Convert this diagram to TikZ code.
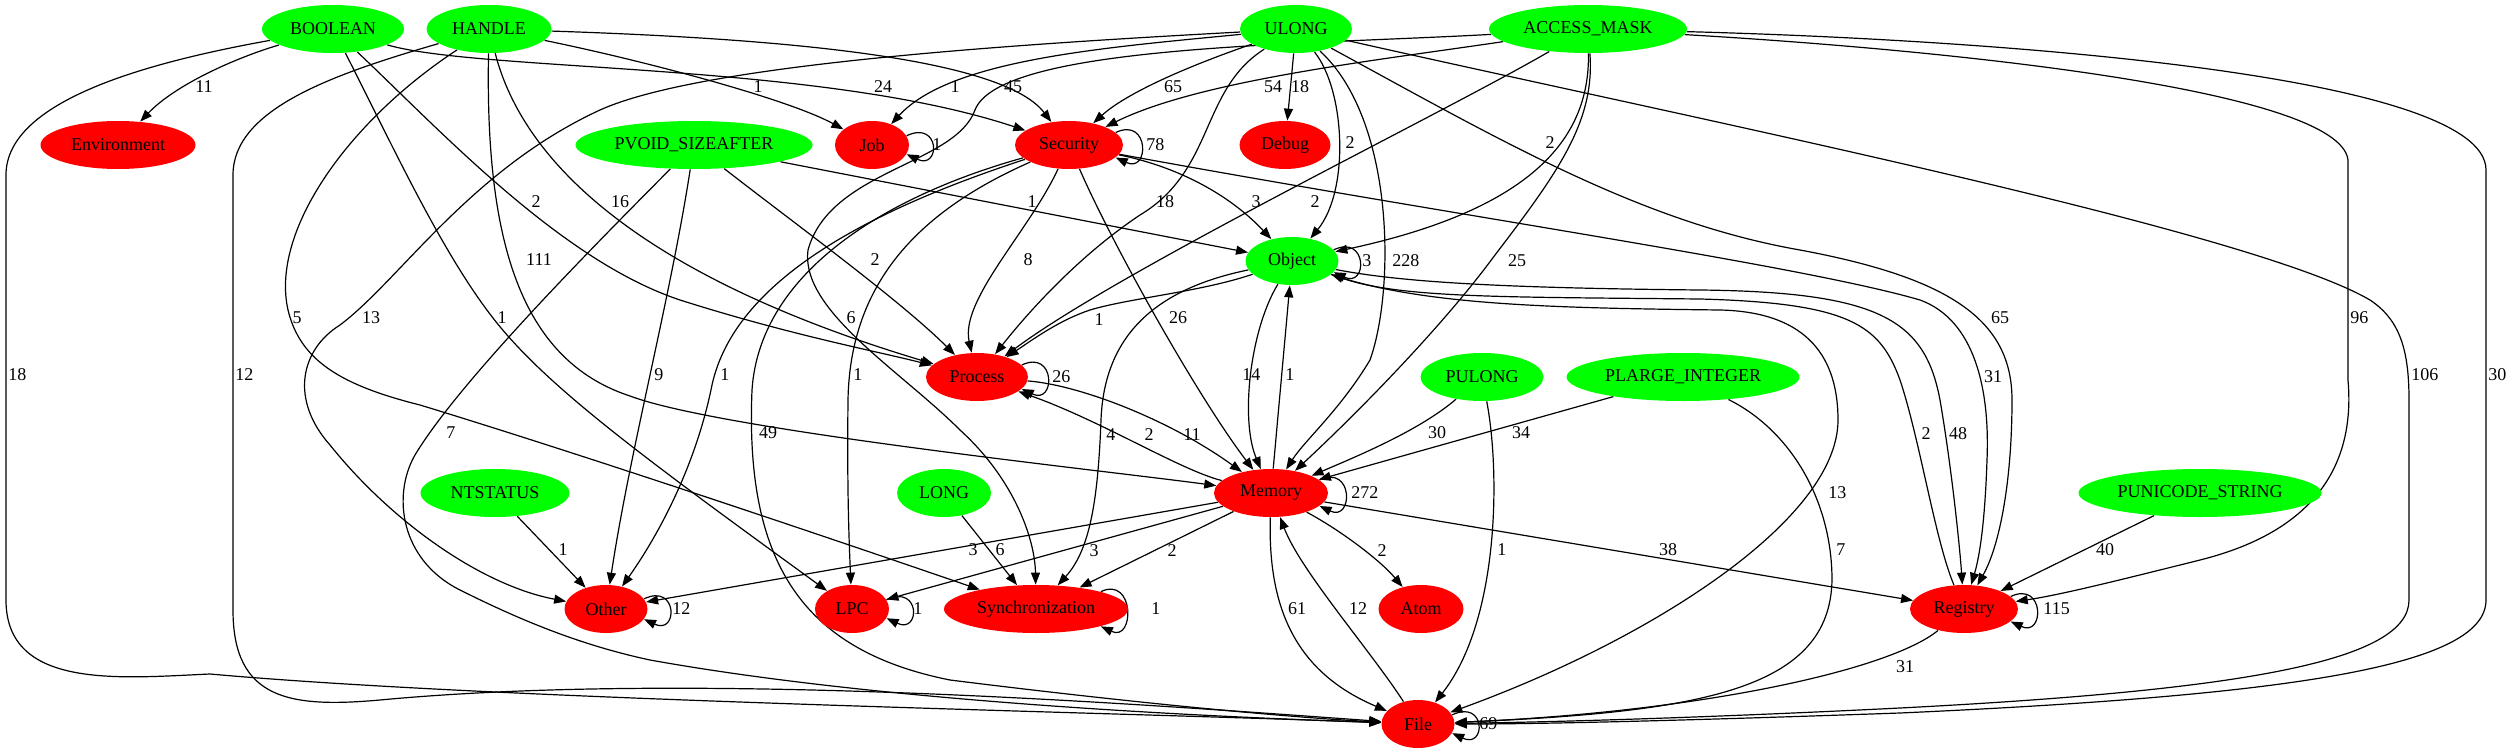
\documentclass[tikz,border=0pt]{standalone}
\usepackage{fontspec}
\setmainfont{Liberation Serif}
\usetikzlibrary{arrows.meta,backgrounds,shapes.geometric}
\definecolor{gn}{RGB}{0,255,0}
\definecolor{rd}{RGB}{255,0,0}
\begin{document}
\begin{tikzpicture}[x=0.5pt,y=-0.5pt,
  base/.style={ellipse,draw=none,minimum height=24pt,inner sep=0pt,font=\fontsize{9}{10}\selectfont},
  gnode/.style={base,fill=gn,minimum width=#1},
  rnode/.style={base,fill=rd,minimum width=#1},
  e/.style={line width=0.6pt,-{Triangle[length=6pt,width=4.5pt]}},
  lab/.style={font=\fontsize{9}{10}\selectfont,inner sep=0pt},
  lw/.style={lab,anchor=west}]
\useasboundingbox (0,0) rectangle (2508,755);
% nodes
\node[gnode=71pt] (BOOLEAN) at (333,29) {BOOLEAN};
\node[gnode=62.5pt] (HANDLE) at (489,29) {HANDLE};
\node[gnode=56pt] (ULONG) at (1296,29) {ULONG};
\node[gnode=99pt] (ACCESS) at (1588,29) {ACCESS\_MASK};
\node[rnode=77.5pt] (Environment) at (118,145) {Environment};
\node[gnode=118.5pt] (PVOID) at (694,145) {PVOID\_SIZEAFTER};
\node[rnode=37pt] (Job) at (872,145) {Job};
\node[rnode=54pt] (Security) at (1069,145) {Security};
\node[rnode=45.5pt] (Debug) at (1285,145) {Debug};
\node[gnode=46.5pt] (Object) at (1292,261) {Object};
\node[rnode=51pt] (Process) at (977,377) {Process};
\node[gnode=61.5pt] (PULONG) at (1482,377) {PULONG};
\node[gnode=116.5pt] (PLARGE) at (1683,377) {PLARGE\_INTEGER};
\node[gnode=74.5pt] (NTSTATUS) at (495,493) {NTSTATUS};
\node[gnode=47pt] (LONG) at (944,493) {LONG};
\node[rnode=57pt] (Memory) at (1271,493) {Memory};
\node[gnode=121.5pt] (PUNICODE) at (2200,493) {PUNICODE\_STRING};
\node[rnode=41.5pt] (Other) at (606,609) {Other};
\node[rnode=37pt] (LPC) at (852,609) {LPC};
\node[rnode=92pt] (Sync) at (1036,609) {Synchronization};
\node[rnode=42.5pt] (Atom) at (1421,609) {Atom};
\node[rnode=54pt] (Registry) at (1964,609) {Registry};
\node[rnode=36.5pt] (File) at (1418,724) {File};
% labels
\node[lab] (lBE) at (204,87) {11};
\node[lw] (lBF) at (8,375) {18};
\node[lw] (lHF) at (235,375) {12};
\node[lab] (lBS) at (883,87) {24};
\node[lab] (lHS) at (1013,87) {45};
\node[lab] (lHJ) at (758,87) {1};
\node[lab] (lUJ) at (955,87) {1};
\node[lab] (lUS) at (1173,87) {65};
\node[lab] (lAS) at (1273,87) {54};
\node[lab] (lUD) at (1300,87) {18};
\node[lab] (lBP) at (536,202) {2};
\node[lab] (lHP) at (620,202) {16};
\node[lab] (lHM) at (539,260) {111};
\node[lab] (lHSy) at (297,318) {5};
\node[lab] (lUO) at (371,318) {13};
\node[lab] (lBL) at (502,318) {1};
\node[lw] (lPF) at (446,433) {7};
\node[lab] (lPO) at (1032,202) {1};
\node[lab] (lUP) at (1165,202) {18};
\node[lab] (lSO) at (1256,202) {3};
\node[lab] (lAP) at (1315,202) {2};
\node[lab] (lUOb) at (1350,143) {2};
\node[lab] (lAO) at (1550,143) {2};
\node[lab] (lPP) at (875,260) {2};
\node[lab] (lSP) at (1028,260) {8};
\node[lw] (lUM) at (1392,261) {228};
\node[lab] (lAM) at (1517,261) {25};
\node[lab] (lASy) at (851,318) {6};
\node[lab] (lOP) at (1099,320) {1};
\node[lab] (lSM) at (1178,318) {26};
\node[lw] (lPOt) at (654,375) {9};
\node[lw] (lSOt) at (720,375) {1};
\node[lw] (lSL) at (853,375) {1};
\node[lw] (lOM) at (1242,375) {14};
\node[lw] (lMO) at (1285,375) {1};
\node[lab] (lSF) at (768,433) {49};
\node[lw] (lOS) at (1106,435) {4};
\node[lab] (lMP) at (1149,435) {2};
\node[lab] (lPM) at (1192,435) {11};
\node[lab] (lMOt) at (973,550) {3};
\node[lab] (lLS) at (1000,550) {6};
\node[lab] (lML) at (1094,551) {3};
\node[lab] (lMS) at (1172,551) {2};
\node[lab] (lNO) at (563,550) {1};
\node[lab] (lPuM) at (1437,433) {30};
\node[lab] (lPlM) at (1521,433) {34};
\node[lw] (lOF) at (1828,493) {13};
\node[lab] (lMA) at (1382,551) {2};
\node[lw] (lPuF) at (1497,550) {1};
\node[lab] (lMR) at (1668,550) {38};
\node[lw] (lPlF) at (1836,550) {7};
\node[lab] (lMF) at (1297,609) {61};
\node[lab] (lFM) at (1358,609) {12};
\node[lab] (lUR) at (2000,318) {65};
\node[lw] (lAR) at (2350,318) {96};
\node[lab] (lSR) at (1993,377) {31};
\node[lw] (lUF) at (2411,375) {106};
\node[lw] (lAF) at (2488,375) {30};
\node[lab] (lRO) at (1926,434) {2};
\node[lab] (lOR) at (1958,434) {48};
\node[lab] (lPR) at (2105,550) {40};
\node[lab] (lRF) at (1905,667) {31};
% loop labels
\node[lw] (lJob) at (932,145) {1};
\node[lw] (lSec) at (1146,145) {78};
\node[lw] (lObj) at (1362,261) {3};
\node[lw] (lPro) at (1052,377) {26};
\node[lw] (lMem) at (1351,493) {272};
\node[lw] (lOth) at (672,609) {12};
\node[lw] (lLPC) at (913,609) {1};
\node[lw] (lSyn) at (1151,609) {1};
\node[lw] (lReg) at (2043,609) {115};
\node[lw] (lFil) at (1479,724) {69};
\begin{pgfonlayer}{background}
\fill[white] (0,0) rectangle (2508,755);
% BOOLEAN
\draw[e] (BOOLEAN) .. controls (235,58) and (175,85) .. (Environment);
\draw[e] (BOOLEAN) .. controls (150,62) and (6,100) .. (6,175) -- (6,600) .. controls (6,690) and (120,678) .. (210,674) .. controls (500,700) and (1100,712) .. (File);
\draw[e] (BOOLEAN) .. controls (480,72) and (820,62) .. (Security);
\draw[e] (BOOLEAN) .. controls (440,130) and (560,260) .. (680,300) .. controls (790,335) and (880,352) .. (Process);
\draw[e] (BOOLEAN) .. controls (390,140) and (440,250) .. (493,318) .. controls (545,385) and (640,455) .. (LPC);
% HANDLE
\draw[e] (HANDLE) .. controls (330,75) and (233,110) .. (233,175) -- (233,610) .. controls (233,700) and (290,708) .. (380,700) .. controls (700,670) and (1150,705) .. (File);
\draw[e] (HANDLE) .. controls (760,38) and (1000,55) .. (Security);
\draw[e] (HANDLE) .. controls (650,62) and (790,100) .. (Job);
\draw[e] (HANDLE) .. controls (520,150) and (620,270) .. (Process);
\draw[e] (HANDLE) .. controls (350,120) and (270,230) .. (288,310) .. controls (300,360) and (340,385) .. (420,405) .. controls (600,460) and (850,545) .. (Sync);
\draw[e] (HANDLE) .. controls (485,240) and (520,360) .. (630,396) .. controls (720,430) and (1100,470) .. (Memory);
% PVOID
\draw[e] (PVOID) .. controls (600,240) and (460,380) .. (415,455) .. controls (392,495) and (400,560) .. (460,590) .. controls (520,620) and (580,645) .. (650,660) .. controls (900,705) and (1250,718) .. (File);
\draw[e] (PVOID) -- (Object);
\draw[e] (PVOID) .. controls (790,220) and (900,300) .. (Process);
\draw[e] (PVOID) .. controls (670,300) and (630,450) .. (Other);
% ULONG
\draw[e] (ULONG) .. controls (1000,45) and (700,65) .. (600,110) .. controls (470,170) and (400,280) .. (340,325) .. controls (300,350) and (290,400) .. (330,445) .. controls (390,520) and (480,585) .. (Other);
\draw[e] (ULONG) .. controls (1100,48) and (950,60) .. (Job);
\draw[e] (ULONG) .. controls (1200,62) and (1130,90) .. (Security);
\draw[e] (ULONG) -- (Debug);
\draw[e] (ULONG) .. controls (1345,90) and (1350,190) .. (Object);
\draw[e] (ULONG) .. controls (1200,90) and (1215,170) .. (1140,215) .. controls (1080,255) and (1030,310) .. (Process);
\draw[e] (ULONG) .. controls (1395,120) and (1395,290) .. (1370,360) .. controls (1340,410) and (1305,440) .. (Memory);
\draw[e] (ULONG) .. controls (1500,140) and (1640,222) .. (1800,250) .. controls (1950,278) and (2012,320) .. (2012,400) .. controls (2012,480) and (2000,545) .. (Registry);
\draw[e] (ULONG) .. controls (1700,120) and (2250,230) .. (2370,300) .. controls (2400,320) and (2409,350) .. (2409,400) -- (2409,600) .. controls (2409,660) and (2250,690) .. (1900,708) .. controls (1700,718) and (1550,722) .. (File);
% ACCESS_MASK
\draw[e] (ACCESS) .. controls (1380,60) and (1200,80) .. (Security);
\draw[e] (ACCESS) .. controls (1300,45) and (1000,45) .. (975,110) .. controls (955,165) and (830,170) .. (808,250) .. controls (800,310) and (900,370) .. (960,430) .. controls (1015,480) and (1035,540) .. (Sync);
\draw[e] (ACCESS) .. controls (1590,140) and (1530,210) .. (Object);
\draw[e] (ACCESS) .. controls (1440,115) and (1120,270) .. (Process);
\draw[e] (ACCESS) .. controls (1595,120) and (1560,170) .. (1495,255) .. controls (1440,330) and (1350,420) .. (Memory);
\draw[e] (ACCESS) .. controls (1950,50) and (2340,90) .. (2348,160) -- (2348,380) .. controls (2355,460) and (2320,530) .. (2200,560) .. controls (2120,580) and (2060,595) .. (Registry);
\draw[e] (ACCESS) .. controls (2000,40) and (2486,75) .. (2486,170) -- (2486,600) .. controls (2486,665) and (2300,695) .. (1900,713) .. controls (1700,720) and (1550,724) .. (File);
% Security
\draw[e] (Security) .. controls (890,195) and (760,270) .. (752,390) .. controls (745,560) and (800,650) .. (950,680) .. controls (1150,705) and (1300,718) .. (File);
\draw[e] (Security) .. controls (1170,165) and (1225,190) .. (Object);
\draw[e] (Security) .. controls (1450,215) and (1800,265) .. (1920,300) .. controls (1975,320) and (1990,390) .. (1987,460) .. controls (1985,520) and (1980,555) .. (Registry);
\draw[e] (Security) .. controls (870,210) and (735,280) .. (712,385) .. controls (695,470) and (655,540) .. (Other);
\draw[e] (Security) .. controls (910,215) and (850,290) .. (848,400) .. controls (847,490) and (849,540) .. (LPC);
\draw[e] (Security) .. controls (1030,230) and (960,300) .. (Process);
\draw[e] (Security) .. controls (1115,250) and (1200,400) .. (Memory);
% Object
\draw[e] (Object) .. controls (1400,282) and (1500,288) .. (1700,290) .. controls (1880,292) and (1925,320) .. (1940,400) .. controls (1952,470) and (1960,550) .. (Registry);
\draw[e] (Registry) .. controls (1935,540) and (1920,440) .. (1900,380) .. controls (1880,325) and (1850,303) .. (1700,299) .. controls (1500,297) and (1400,298) .. (Object);
\draw[e] (Object) .. controls (1420,305) and (1550,308) .. (1720,310) .. controls (1810,312) and (1838,360) .. (1838,420) .. controls (1838,520) and (1650,640) .. (File);
\draw[e] (Object) .. controls (1200,292) and (1130,298) .. (1090,310) .. controls (1060,320) and (1035,338) .. (Process);
\draw[e] (Object) .. controls (1150,290) and (1104,340) .. (1101,420) .. controls (1098,500) and (1090,550) .. (Sync);
\draw[e] (Object) .. controls (1250,330) and (1240,420) .. (Memory);
% Memory
\draw[e] (Memory) -- (Object);
\draw[e] (Process) .. controls (1080,385) and (1170,420) .. (Memory);
\draw[e] (Memory) .. controls (1180,470) and (1100,420) .. (Process);
\draw[e] (Memory) -- (Other);
\draw[e] (Memory) -- (LPC);
\draw[e] (Memory) -- (Sync);
\draw[e] (Memory) .. controls (1340,530) and (1380,560) .. (Atom);
\draw[e] (Memory) .. controls (1268,600) and (1290,670) .. (File);
\draw[e] (File) .. controls (1370,650) and (1300,570) .. (Memory);
\draw[e] (Memory) -- (Registry);
% others
\draw[e] (LONG) -- (Sync);
\draw[e] (NTSTATUS) -- (Other);
\draw[e] (PULONG) .. controls (1420,430) and (1360,455) .. (Memory);
\draw[e] (PLARGE) -- (Memory);
\draw[e] (PULONG) .. controls (1500,470) and (1500,620) .. (File);
\draw[e] (PLARGE) .. controls (1790,430) and (1832,500) .. (1832,580) .. controls (1830,690) and (1700,712) .. (File);
\draw[e] (PUNICODE) -- (Registry);
\draw[e] (Registry) .. controls (1890,670) and (1700,712) .. (File);
% loops
\draw[e] (Job.15) .. controls +(34,-16) and +(34,16) .. (Job.-15);
\draw[e] (Security.15) .. controls +(34,-16) and +(34,16) .. (Security.-15);
\draw[e] (Object.15) .. controls +(34,-16) and +(34,16) .. (Object.-15);
\draw[e] (Process.15) .. controls +(34,-16) and +(34,16) .. (Process.-15);
\draw[e] (Memory.15) .. controls +(34,-16) and +(34,16) .. (Memory.-15);
\draw[e] (Other.15) .. controls +(34,-16) and +(34,16) .. (Other.-15);
\draw[e] (LPC.15) .. controls +(34,-16) and +(34,16) .. (LPC.-15);
\draw[e] (Sync.15) .. controls +(34,-16) and +(34,16) .. (Sync.-15);
\draw[e] (Registry.15) .. controls +(34,-16) and +(34,16) .. (Registry.-15);
\draw[e] (File.15) .. controls +(34,-16) and +(34,16) .. (File.-15);
\end{pgfonlayer}
\end{tikzpicture}
\end{document}
